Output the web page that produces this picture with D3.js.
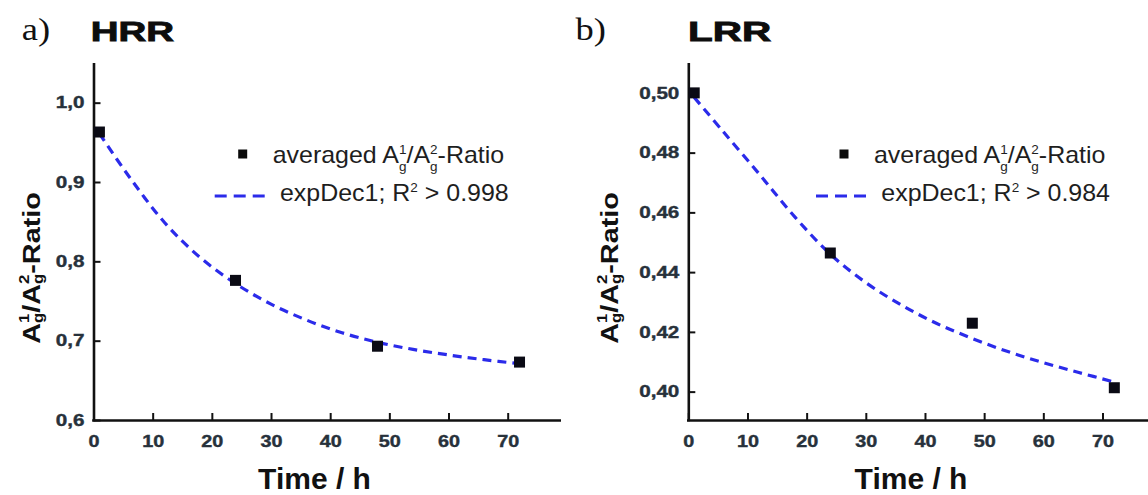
<!DOCTYPE html>
<html>
<head>
<meta charset="utf-8">
<script src="https://cdn.jsdelivr.net/npm/d3@7"></script>
<style>
  html, body { margin: 0; padding: 0; background: #fff; }
  svg { display: block; }
  text { font-family: "Liberation Sans", Arial, sans-serif; }
</style>
</head>
<body>
<svg id="chart" width="1148" height="495"></svg>
<script>
// ---------------- data ----------------
const timeH = [1, 24, 48, 72];
const hrrRatio = [0.963, 0.776, 0.693, 0.673];
const lrrRatio = [0.500, 0.4464, 0.4229, 0.4013];

const fitTime = [1, 6, 12, 18, 24, 30, 36, 42, 48, 54, 60, 66, 72];
const hrrFit = [0.961, 0.907, 0.849, 0.805, 0.772, 0.746, 0.726, 0.710, 0.698, 0.689, 0.682, 0.676, 0.671];
const lrrFit = [0.4985, 0.4868, 0.4728, 0.4585, 0.4460, 0.4365, 0.4290, 0.4228, 0.4178, 0.4134, 0.4097, 0.4064, 0.4032];

const xTicks = [0, 10, 20, 30, 40, 50, 60, 70];
const hrrYTicks = [0.6, 0.7, 0.8, 0.9, 1.0];
const lrrYTicks = [0.40, 0.42, 0.44, 0.46, 0.48, 0.50];
const hrrYLabels = ["0,6", "0,7", "0,8", "0,9", "1,0"];
const lrrYLabels = ["0,40", "0,42", "0,44", "0,46", "0,48", "0,50"];

const panelLetters = ["a)", "b)"];
const panelTitles = ["HRR", "LRR"];
const fitLabels = ["0.998", "0.984"];
const xTitle = "Time / h";

// ---------------- layout ----------------
const svg = d3.select("#chart");
const BLUE = "#2b2bea";
const TICKCOL = "#27313b";

const panels = [
  { left: 93.5, right: 561, xMax: 79, yDom: [0.6, 1.05], top: 63, bottom: 420,
    yTicks: hrrYTicks, yLabels: hrrYLabels, pts: hrrRatio, fit: hrrFit,
    letterX: 21.7, titleX: 90.7, titleSX: 1.35, yTitleX: 40, xTitleX: 314.5,
    legX: 272.7 },
  { left: 688.3, right: 1149, xMax: 78, yDom: [0.3905, 0.51], top: 63, bottom: 420,
    yTicks: lrrYTicks, yLabels: lrrYLabels, pts: lrrRatio, fit: lrrFit,
    letterX: 575.5, titleX: 688, titleSX: 1.42, yTitleX: 618, xTitleX: 911,
    legX: 874 }
];

panels.forEach((p, i) => {
  const g = svg.append("g");
  const x = d3.scaleLinear().domain([0, p.xMax]).range([p.left, p.left + p.xMax * 5.917]);
  const y = d3.scaleLinear().domain(p.yDom).range([p.bottom, p.top]);

  // panel letter (serif)
  g.append("text")
    .attr("transform", `translate(${p.letterX},40) scale(1.14,1)`)
    .attr("font-size", 32)
    .attr("fill", "#111")
    .style("font-family", "'Liberation Serif', 'Times New Roman', serif")
    .text(panelLetters[i]);

  // panel title
  g.append("text")
    .attr("transform", `translate(${p.titleX},40.7) scale(${p.titleSX},1)`)
    .attr("font-size", 28.5)
    .attr("font-weight", "bold")
    .attr("fill", "#0d0d0d")
    .attr("stroke", "#0d0d0d").attr("stroke-width", 0.9)
    .text(panelTitles[i]);

  // x axis
  const xAxis = d3.axisBottom(x).tickValues(xTicks).tickFormat(d3.format("d"))
    .tickSizeInner(-7).tickSizeOuter(0).tickPadding(15);
  const gx = g.append("g").attr("transform", `translate(0,${p.bottom})`).call(xAxis);
  gx.select(".domain").attr("stroke", "#111").attr("stroke-width", 2.6)
    .attr("d", `M${p.left - 1.3},0.5H${p.right}`);
  gx.selectAll(".tick line").attr("stroke", "#111").attr("stroke-width", 2);
  gx.selectAll(".tick text")
    .attr("font-size", 16.5).attr("font-weight", "bold").attr("fill", TICKCOL)
    .attr("stroke", TICKCOL).attr("stroke-width", 0.4)
    .attr("font-family", "'Liberation Sans', Arial, sans-serif")
    .attr("transform", "scale(1.2,1)");

  // y axis
  const yAxis = d3.axisLeft(y).tickValues(p.yTicks)
    .tickFormat((d, k) => p.yLabels[k])
    .tickSizeInner(-7).tickSizeOuter(0).tickPadding(9);
  const gy = g.append("g").attr("transform", `translate(${p.left},0)`).call(yAxis);
  gy.select(".domain").attr("stroke", "#111").attr("stroke-width", 2.6)
    .attr("d", `M0.5,${p.top}V${p.bottom + 1.3}`);
  gy.selectAll(".tick line").attr("stroke", "#111").attr("stroke-width", 2);
  gy.selectAll(".tick text")
    .attr("font-size", 16.5).attr("font-weight", "bold").attr("fill", TICKCOL)
    .attr("stroke", TICKCOL).attr("stroke-width", 0.4)
    .attr("font-family", "'Liberation Sans', Arial, sans-serif")
    .attr("x", -9 / 1.25)
    .attr("transform", "scale(1.25,1)");

  // fit curve
  const line = d3.line().x(d => x(d[0])).y(d => y(d[1])).curve(d3.curveCatmullRom.alpha(0.5));
  g.append("path")
    .datum(fitTime.map((t, k) => [t, p.fit[k]]))
    .attr("d", line)
    .attr("fill", "none")
    .attr("stroke", BLUE)
    .attr("stroke-width", 3.2)
    .attr("stroke-dasharray", "9,6");

  // data markers
  g.selectAll("rect.pt")
    .data(timeH.map((t, k) => [t, p.pts[k]]))
    .join("rect")
    .attr("class", "pt")
    .attr("x", d => x(d[0]) - 5.5)
    .attr("y", d => y(d[1]) - 5.5)
    .attr("width", 11).attr("height", 11)
    .attr("fill", "#0a0a14");

  // y-axis title (rotated)
  const yt = g.append("text")
    .attr("transform", `translate(${p.yTitleX},268) rotate(-90) scale(1.2,1)`)
    .attr("text-anchor", "middle")
    .attr("font-size", 24)
    .attr("font-weight", "bold")
    .attr("fill", "#111");
  yt.append("tspan").text("A");
  yt.append("tspan").attr("font-size", 14).attr("dy", -11).text("1");
  yt.append("tspan").attr("font-size", 14).attr("dx", -7.8).attr("dy", 14).text("g");
  yt.append("tspan").attr("dy", -3).text("/A");
  yt.append("tspan").attr("font-size", 14).attr("dy", -11).text("2");
  yt.append("tspan").attr("font-size", 14).attr("dx", -7.8).attr("dy", 14).text("g");
  yt.append("tspan").attr("dy", -3).text("-Ratio");

  // x-axis title
  g.append("text")
    .attr("x", p.xTitleX).attr("y", 489)
    .attr("text-anchor", "middle")
    .attr("font-size", 30).attr("font-weight", "bold").attr("fill", "#111")
    .text(xTitle);

  // legend
  const lg = g.append("g").attr("transform", `translate(${p.legX},0)`);
  lg.append("rect").attr("x", -34.5).attr("y", 149.5).attr("width", 9).attr("height", 9)
    .attr("fill", "#0a0a0a");
  const t1 = lg.append("text").attr("transform", "translate(0,163.3) scale(1.04,1)")
    .attr("font-size", 24).attr("fill", "#1e1e1e");
  t1.append("tspan").text("averaged A");
  t1.append("tspan").attr("font-size", 13).attr("dy", -9).text("1");
  t1.append("tspan").attr("font-size", 13).attr("dx", -7.2).attr("dy", 17).text("g");
  t1.append("tspan").attr("dy", -8).text("/A");
  t1.append("tspan").attr("font-size", 13).attr("dy", -9).text("2");
  t1.append("tspan").attr("font-size", 13).attr("dx", -7.2).attr("dy", 17).text("g");
  t1.append("tspan").attr("dy", -8).text("-Ratio");

  lg.append("line").attr("x1", -58).attr("x2", -1).attr("y1", 196).attr("y2", 196)
    .attr("stroke", BLUE).attr("stroke-width", 3.2).attr("stroke-dasharray", "12,7");
  const t2 = lg.append("text").attr("transform", "translate(7.3,200.7) scale(1.04,1)")
    .attr("font-size", 24).attr("fill", "#1e1e1e");
  t2.append("tspan").text("expDec1; R");
  t2.append("tspan").attr("font-size", 13).attr("dy", -9).text("2");
  t2.append("tspan").attr("dy", 9).text(" > " + fitLabels[i]);
});
</script>
</body>
</html>
